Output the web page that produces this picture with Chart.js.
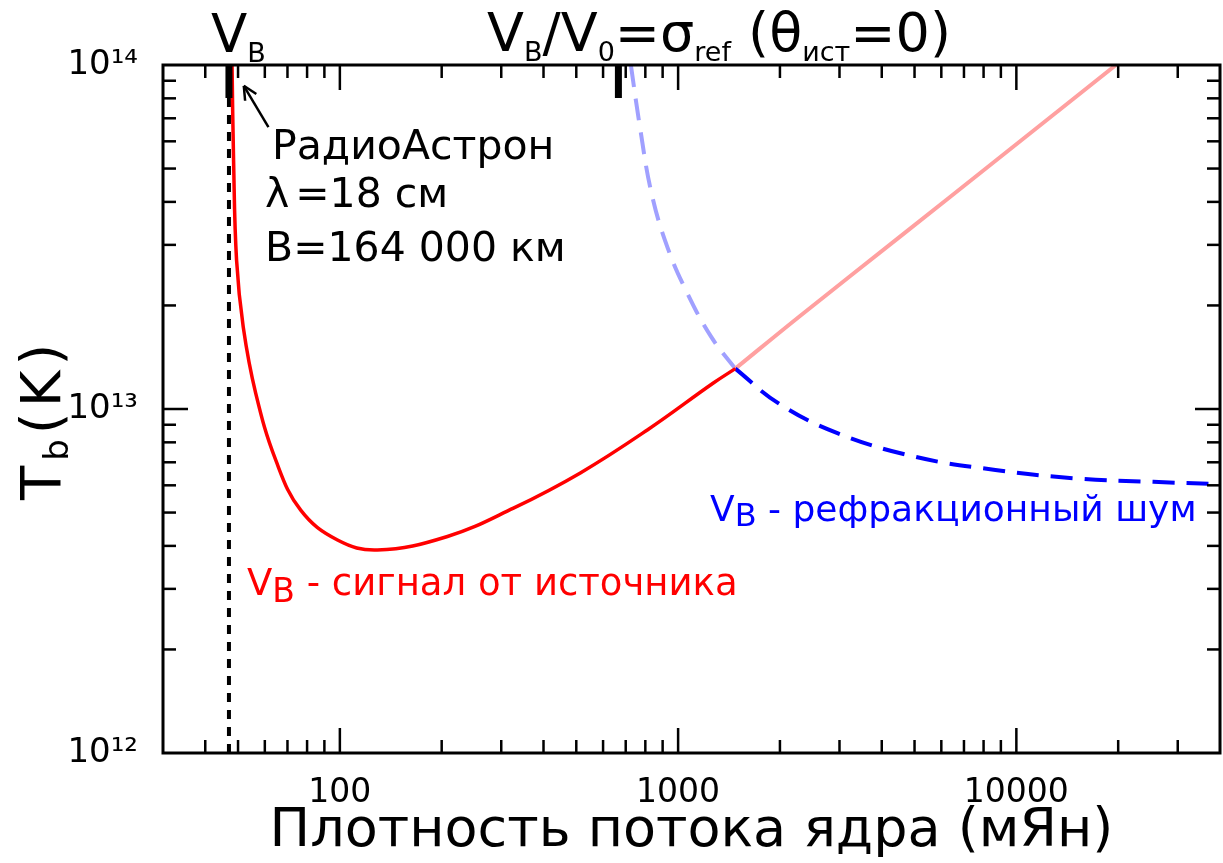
<!DOCTYPE html>
<html lang="ru">
<head>
<meta charset="UTF-8">
<title>Tb vs flux</title>
<script src="https://cdn.jsdelivr.net/npm/chart.js"></script>
<style>
  body { margin: 0; background: #fff; }
  #wrap { position: relative; width: 1223px; height: 863px; }
  #chart1 { position: absolute; left: 0; top: 0; }
  .ann { position: absolute; white-space: nowrap; font-family: 'DejaVu Sans', sans-serif; line-height: 1; color: #000; }
  .ann .sb { position: relative; }
</style>
</head>
<body>
<div id="wrap">
  <canvas id="chart1" width="1223" height="863"></canvas>

  <!-- labels over the plot -->
  <div class="ann" style="left:211px;top:7px;font-size:53px">V<span class="sb" style="font-size:27px;top:10px">B</span></div>
  <div class="ann" style="left:487px;top:6px;font-size:54px">V<span class="sb" style="font-size:27px;top:10px">B</span>/V<span class="sb" style="font-size:27px;top:10px">0</span>=σ<span class="sb" style="font-size:27px;top:10px">ref</span> (θ<span class="sb" style="font-size:27px;top:10px">ист</span>=0)</div>
  <div class="ann" style="left:272px;top:125px;font-size:41px">РадиоАстрон</div>
  <div class="ann" style="left:265px;top:173px;font-size:41px"><span style="margin-right:6px">λ</span>=18 см</div>
  <div class="ann" style="left:265px;top:227px;font-size:41px">B=164 000 км</div>
  <div class="ann" style="left:247px;top:564px;font-size:37px;color:#ff0000">V<span class="sb" style="font-size:33px;top:7px">B</span> - сигнал от источника</div>
  <div class="ann" style="left:710px;top:491px;font-size:36px;color:#0000ff">V<span class="sb" style="font-size:32px;top:5px">B</span> - рефракционный шум</div>
  <div class="ann" style="left:13px;top:500px;font-size:56px;transform:rotate(-90deg);transform-origin:0 0;letter-spacing:5px">T<span class="sb" style="font-size:34px;top:8px">b</span>(K)</div>
</div>

<script>
// axis ranges
var xMin = 30, xMax = 40000;
var yMin = 1e12, yMax = 1e14;

// source signal, below the crossing (solid red)
var srcX = [48, 48.5, 49.5, 51.8, 56.4, 64.6, 76.6, 98.4, 129, 208, 326, 514, 811, 1271, 1476];
var srcY = [1e14, 5.3e13, 2.71e13, 1.73e13, 1.11e13, 7.11e12, 5.08e12, 4.16e12, 3.89e12, 4.26e12, 5.15e12, 6.52e12, 8.69e12, 1.19e13, 1.31e13];

// source signal, above the crossing (pale red)
var srcHiX = [1476, 2298, 4540, 8964, 19700];
var srcHiY = [1.31e13, 1.867e13, 3.176e13, 5.40e13, 1e14];

// refractive noise, above the crossing (pale blue dashed)
var refHiX = [725, 771, 834, 929, 1065, 1253, 1476];
var refHiY = [1e14, 6.61e13, 4.25e13, 2.96e13, 2.17e13, 1.62e13, 1.31e13];

// refractive noise, below the crossing (blue dashed)
var refX = [1476, 1977, 2958, 5060, 8670, 14830, 25400, 40000];
var refY = [1.31e13, 1.04e13, 8.51e12, 7.25e12, 6.65e12, 6.29e12, 6.14e12, 6.05e12];

// V_B limit (black dotted vertical)
var vbX = [47, 47];
var vbY = [1e12, 1e14];

// thick marks on the top axis
var markX = [47, 666];

// arrow pointing at the curve (from, to)
var arrowFrom = [61.5, 6.6e13];
var arrowTo = [52, 8.7e13];

// tick values
var xTicks = [40, 50, 60, 70, 80, 90, 100, 200, 300, 400, 500, 600, 700, 800, 900,
              1000, 2000, 3000, 4000, 5000, 6000, 7000, 8000, 9000, 10000, 20000, 30000];
var xTickLabels = { 100: '100', 1000: '1000', 10000: '10000' };
var yTicks = [1e12, 2e12, 3e12, 4e12, 5e12, 6e12, 7e12, 8e12, 9e12,
              1e13, 2e13, 3e13, 4e13, 5e13, 6e13, 7e13, 8e13, 9e13, 1e14];
var yTickLabels = { 12: '10¹²', 13: '10¹³', 14: '10¹⁴' };

function pts(xs, ys) {
    return xs.map(function (v, i) { return { x: v, y: ys[i] }; });
}

function isMajor(v) {
    var l = Math.log10(v);
    return Math.abs(l - Math.round(l)) < 1e-6;
}

/* box, inward ticks, top marks and the arrow */
var framePlugin = {
    id: 'frame',
    afterDatasetsDraw: function (chart) {
        var ctx = chart.ctx, a = chart.chartArea;
        var sx = chart.scales.x, sy = chart.scales.y;
        function seg(x1, y1, x2, y2) {
            ctx.beginPath(); ctx.moveTo(x1, y1); ctx.lineTo(x2, y2); ctx.stroke();
        }
        ctx.save();
        ctx.strokeStyle = '#000';
        ctx.lineCap = 'butt';
        ctx.lineWidth = 2.5;
        xTicks.forEach(function (v) {
            var px = sx.getPixelForValue(v);
            var len = isMajor(v) ? 25 : 13;
            seg(px, a.bottom, px, a.bottom - len);
            seg(px, a.top, px, a.top + len);
        });
        yTicks.forEach(function (v) {
            var py = sy.getPixelForValue(v);
            if (py <= a.top + 1 || py >= a.bottom - 1) return;
            var len = isMajor(v) ? 25 : 13;
            seg(a.left, py, a.left + len, py);
            seg(a.right, py, a.right - len, py);
        });
        ctx.lineWidth = 3;
        ctx.strokeRect(a.left, a.top, a.right - a.left, a.bottom - a.top);

        ctx.lineWidth = 7;
        markX.forEach(function (v) {
            var px = sx.getPixelForValue(v);
            seg(px, a.top, px, a.top + 33);
        });

        // arrow
        var x1 = sx.getPixelForValue(arrowFrom[0]), y1 = sy.getPixelForValue(arrowFrom[1]);
        var x2 = sx.getPixelForValue(arrowTo[0]), y2 = sy.getPixelForValue(arrowTo[1]);
        ctx.lineWidth = 2.5;
        seg(x1, y1, x2, y2);
        var ang = Math.atan2(y2 - y1, x2 - x1);
        var h = 15, spread = 0.45;
        seg(x2, y2, x2 - h * Math.cos(ang - spread), y2 - h * Math.sin(ang - spread));
        seg(x2, y2, x2 - h * Math.cos(ang + spread), y2 - h * Math.sin(ang + spread));
        ctx.restore();
    }
};

var lineBase = { showLine: true, pointRadius: 0, fill: false, tension: 0.4 };

var ctx = document.getElementById('chart1').getContext('2d');
var myChart = new Chart(ctx, {
    type: 'scatter',
    data: {
        datasets: [
            Object.assign({}, lineBase, { label: 'src', data: pts(srcX, srcY), borderColor: '#ff0000', borderWidth: 3.5, order: 1 }),
            Object.assign({}, lineBase, { label: 'ref', data: pts(refX, refY), borderColor: '#0000ff', borderWidth: 4, borderDash: [22, 12], order: 2 }),
            Object.assign({}, lineBase, { label: 'srcHi', data: pts(srcHiX, srcHiY), borderColor: '#ffa0a0', borderWidth: 4, order: 3 }),
            Object.assign({}, lineBase, { label: 'refHi', data: pts(refHiX, refHiY), borderColor: '#a0a0ff', borderWidth: 4, borderDash: [22, 12], order: 4 }),
            Object.assign({}, lineBase, { label: 'vb', data: pts(vbX, vbY), borderColor: '#000000', borderWidth: 4, borderDash: [9, 8], tension: 0, order: 5 })
        ]
    },
    options: {
        responsive: false,
        animation: false,
        devicePixelRatio: 1,
        layout: { padding: { top: 65, right: 3, left: 0, bottom: 0 } },
        plugins: {
            legend: { display: false },
            tooltip: { enabled: false }
        },
        scales: {
            x: {
                type: 'logarithmic',
                min: xMin, max: xMax,
                afterBuildTicks: function (s) { s.ticks = xTicks.map(function (v) { return { value: v }; }); },
                afterFit: function (s) { s.height = 110; },
                grid: { display: false },
                border: { display: false },
                ticks: {
                    autoSkip: false, maxRotation: 0, padding: 13,
                    color: '#000',
                    font: { family: 'DejaVu Sans', size: 33 },
                    callback: function (v) { return xTickLabels[v] || ''; }
                },
                title: {
                    display: true,
                    text: 'Плотность потока ядра (мЯн)',
                    color: '#000',
                    font: { family: 'DejaVu Sans', size: 54, lineHeight: 1.15 },
                    padding: { top: 0, bottom: 0 }
                }
            },
            y: {
                type: 'logarithmic',
                min: yMin, max: yMax,
                afterBuildTicks: function (s) { s.ticks = yTicks.map(function (v) { return { value: v }; }); },
                afterFit: function (s) { s.width = 163; },
                grid: { display: false },
                border: { display: false },
                ticks: {
                    autoSkip: false, padding: 17,
                    color: '#000',
                    font: { family: 'DejaVu Sans', size: 34 },
                    callback: function (v) {
                        var l = Math.round(Math.log10(v));
                        return isMajor(v) ? (yTickLabels[l] || '') : '';
                    }
                }
            }
        }
    },
    plugins: [framePlugin]
});
</script>
</body>
</html>
